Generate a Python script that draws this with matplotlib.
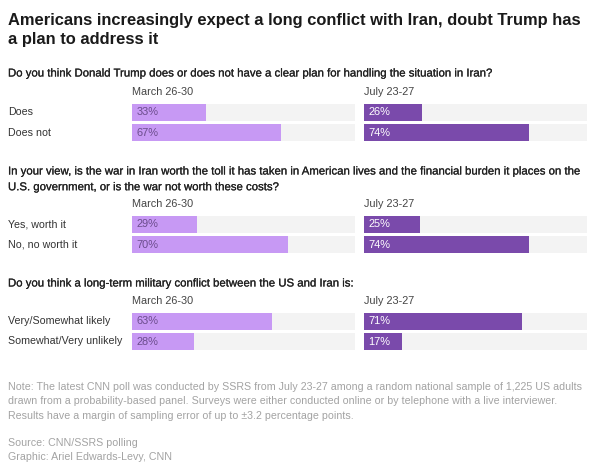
import matplotlib
matplotlib.use("Agg")
import matplotlib.pyplot as plt
import matplotlib.patheffects as pe

plt.rcParams['font.family'] = ['Liberation Sans', 'DejaVu Sans']

# data
title = "Americans increasingly expect a long conflict with Iran, doubt Trump has\na plan to address it"
questions = [
    "Do you think Donald Trump does or does not have a clear plan for handling the situation in Iran?",
    "In your view, is the war in Iran worth the toll it has taken in American lives and the financial burden it places on the\nU.S. government, or is the war not worth these costs?",
    "Do you think a long-term military conflict between the US and Iran is:",
]
row_labels = [
    ["Does", "Does not"],
    ["Yes, worth it", "No, no worth it"],
    ["Very/Somewhat likely", "Somewhat/Very unlikely"],
]
periods = ["March 26-30", "July 23-27"]
march_vals = [[33, 67], [29, 70], [63, 28]]
july_vals = [[26, 74], [25, 74], [71, 17]]
note = ("Note: The latest CNN poll was conducted by SSRS from July 23-27 among a random national sample of 1,225 US adults\n"
        "drawn from a probability-based panel. Surveys were either conducted online or by telephone with a live interviewer.\n"
        "Results have a margin of sampling error of up to \u00b13.2 percentage points.")
source = "Source: CNN/SSRS polling\nGraphic: Ariel Edwards-Levy, CNN"

W, H = 600, 468
fig = plt.figure(figsize=(6, 4.68), dpi=100)
fig.patch.set_facecolor('white')

def px(x, y):
    return x / W, 1 - y / H

c_march = '#c799f4'
c_july = '#7a4aab'
c_track = '#f3f3f3'

fig.text(*px(8, 30), title, fontsize=11.9, fontweight='bold', color='#1a1a1a',
         va='center', ha='left', linespacing=1.38)

# layout per panel: question y (center of first line), period label y, top of first bar
q_y = [73, 171, 283]
per_y = [92, 204, 301]
bar_top = [104, 216, 313]
col_x = [132, 364]
col_w = 223
bar_h = 37

for i in range(3):
    fig.text(*px(8, q_y[i] - 4.5), questions[i], fontsize=8.2, color='#222222',
             va='top', ha='left', linespacing=1.72,
             path_effects=[pe.withStroke(linewidth=0.15, foreground='#222222')])
    for j, lab in enumerate(row_labels[i]):
        fig.text(*px(8, bar_top[i] + 8 + j * 20.5), lab, fontsize=7.7, color='#333333',
                 va='center', ha='left')
    for k, vals in enumerate([march_vals[i], july_vals[i]]):
        fig.text(*px(col_x[k], per_y[i]), periods[k], fontsize=7.8, color='#444444',
                 va='center', ha='left')
        x0, y0 = px(col_x[k], bar_top[i] + bar_h)
        ax = fig.add_axes([x0, y0, col_w / W, bar_h / H])
        ypos = [0, 1]
        ax.barh(ypos, [100, 100], height=0.805, color=c_track, edgecolor='none')
        ax.barh(ypos, vals, height=0.805, color=c_march if k == 0 else c_july, edgecolor='none')
        for yy, v in zip(ypos, vals):
            ax.text(2.0, yy, f"{v}%", fontsize=7.9, va='center', ha='left',
                    color='#6b4c8c' if k == 0 else 'white')
        ax.set_xlim(0, 100)
        ax.set_ylim(1.4025, -0.4025)
        ax.axis('off')

fig.text(*px(8, 382), note, fontsize=7.7, color='#a3a3a3', va='top', ha='left', linespacing=1.55)
fig.text(*px(8, 437.5), source, fontsize=7.7, color='#a3a3a3', va='top', ha='left', linespacing=1.55)

fig.savefig('out.png', dpi=100, facecolor='white')
